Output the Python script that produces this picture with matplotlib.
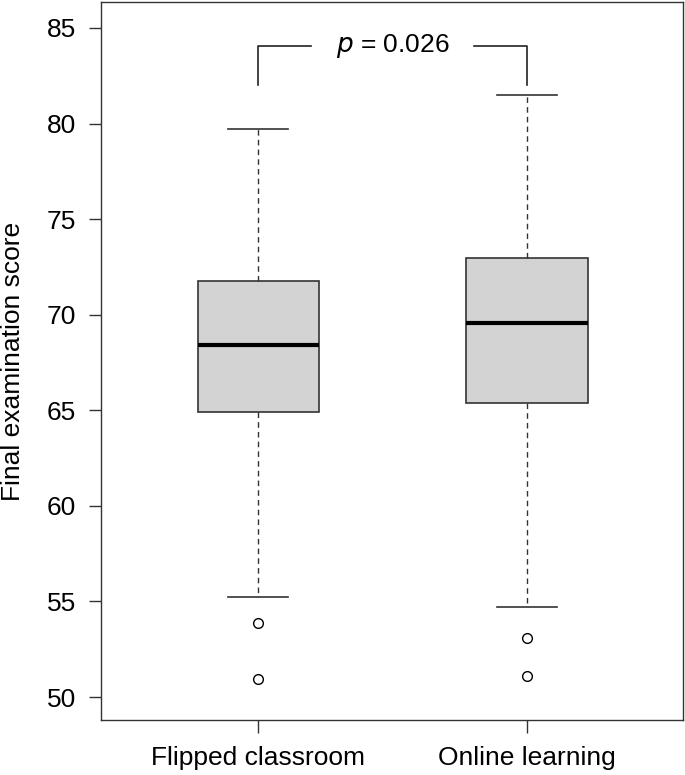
import matplotlib
matplotlib.use("Agg")
import matplotlib.pyplot as plt

categories = ["Flipped classroom", "Online learning"]
whisker_low = [55.25, 54.7]
q1 = [64.93, 65.36]
median = [68.4, 69.55]
q3 = [71.74, 72.97]
whisker_high = [79.72, 81.5]
outliers = [[53.87, 50.92], [53.08, 51.12]]
p_text = "0.026"
y_ticks = [50, 55, 60, 65, 70, 75, 80, 85]

plt.rcParams['font.family'] = ['Liberation Sans', 'DejaVu Sans']

fig = plt.figure(figsize=(6.85, 7.75), dpi=100)
ax = fig.add_axes([101/685, 55/775, 582/685, 718/775])

stats = []
for i in range(2):
    stats.append(dict(med=median[i], q1=q1[i], q3=q3[i], whislo=whisker_low[i],
                      whishi=whisker_high[i], fliers=outliers[i], label=categories[i]))

edge = "#333333"
ax.bxp(stats, positions=[1, 2], widths=0.45, patch_artist=True, showfliers=True,
       boxprops=dict(facecolor="#D3D3D3", edgecolor=edge, linewidth=1.2),
       medianprops=dict(color="black", linewidth=3.0),
       whiskerprops=dict(color=edge, linewidth=1.0, linestyle=(0, (4, 3))),
       capprops=dict(color=edge, linewidth=1.2),
       capwidths=0.225,
       flierprops=dict(marker="o", markerfacecolor="white", markeredgecolor="black",
                       markersize=7, markeredgewidth=1.0))

ax.set_xlim(0.416, 2.58)
ax.set_ylim(48.8, 86.36)
ax.set_yticks(y_ticks)
ax.set_yticklabels([str(t) for t in y_ticks])
ax.set_xticks([1, 2])
ax.set_xticklabels(categories)
ax.tick_params(axis='both', labelsize=19, length=9, width=1.0, color=edge)
ax.tick_params(axis='y', pad=9)
ax.tick_params(axis='x', pad=10)
for s in ax.spines.values():
    s.set_color(edge)
    s.set_linewidth(1.0)

fig.text(13/685, 1 - 361/775, "Final examination score", rotation=90,
         ha="center", va="center", fontsize=19)

# significance bracket
ytop = 84.06
yleg = 82.0
ax.plot([1, 1, 1.197], [yleg, ytop, ytop], color="#222222", lw=1.2)
ax.plot([1.802, 2, 2], [ytop, ytop, yleg], color="#222222", lw=1.2)
ax.text(1.5, ytop, r"$\it{p}$ = " + p_text, ha="center", va="center", fontsize=19)

fig.savefig("out.png", dpi=100)
